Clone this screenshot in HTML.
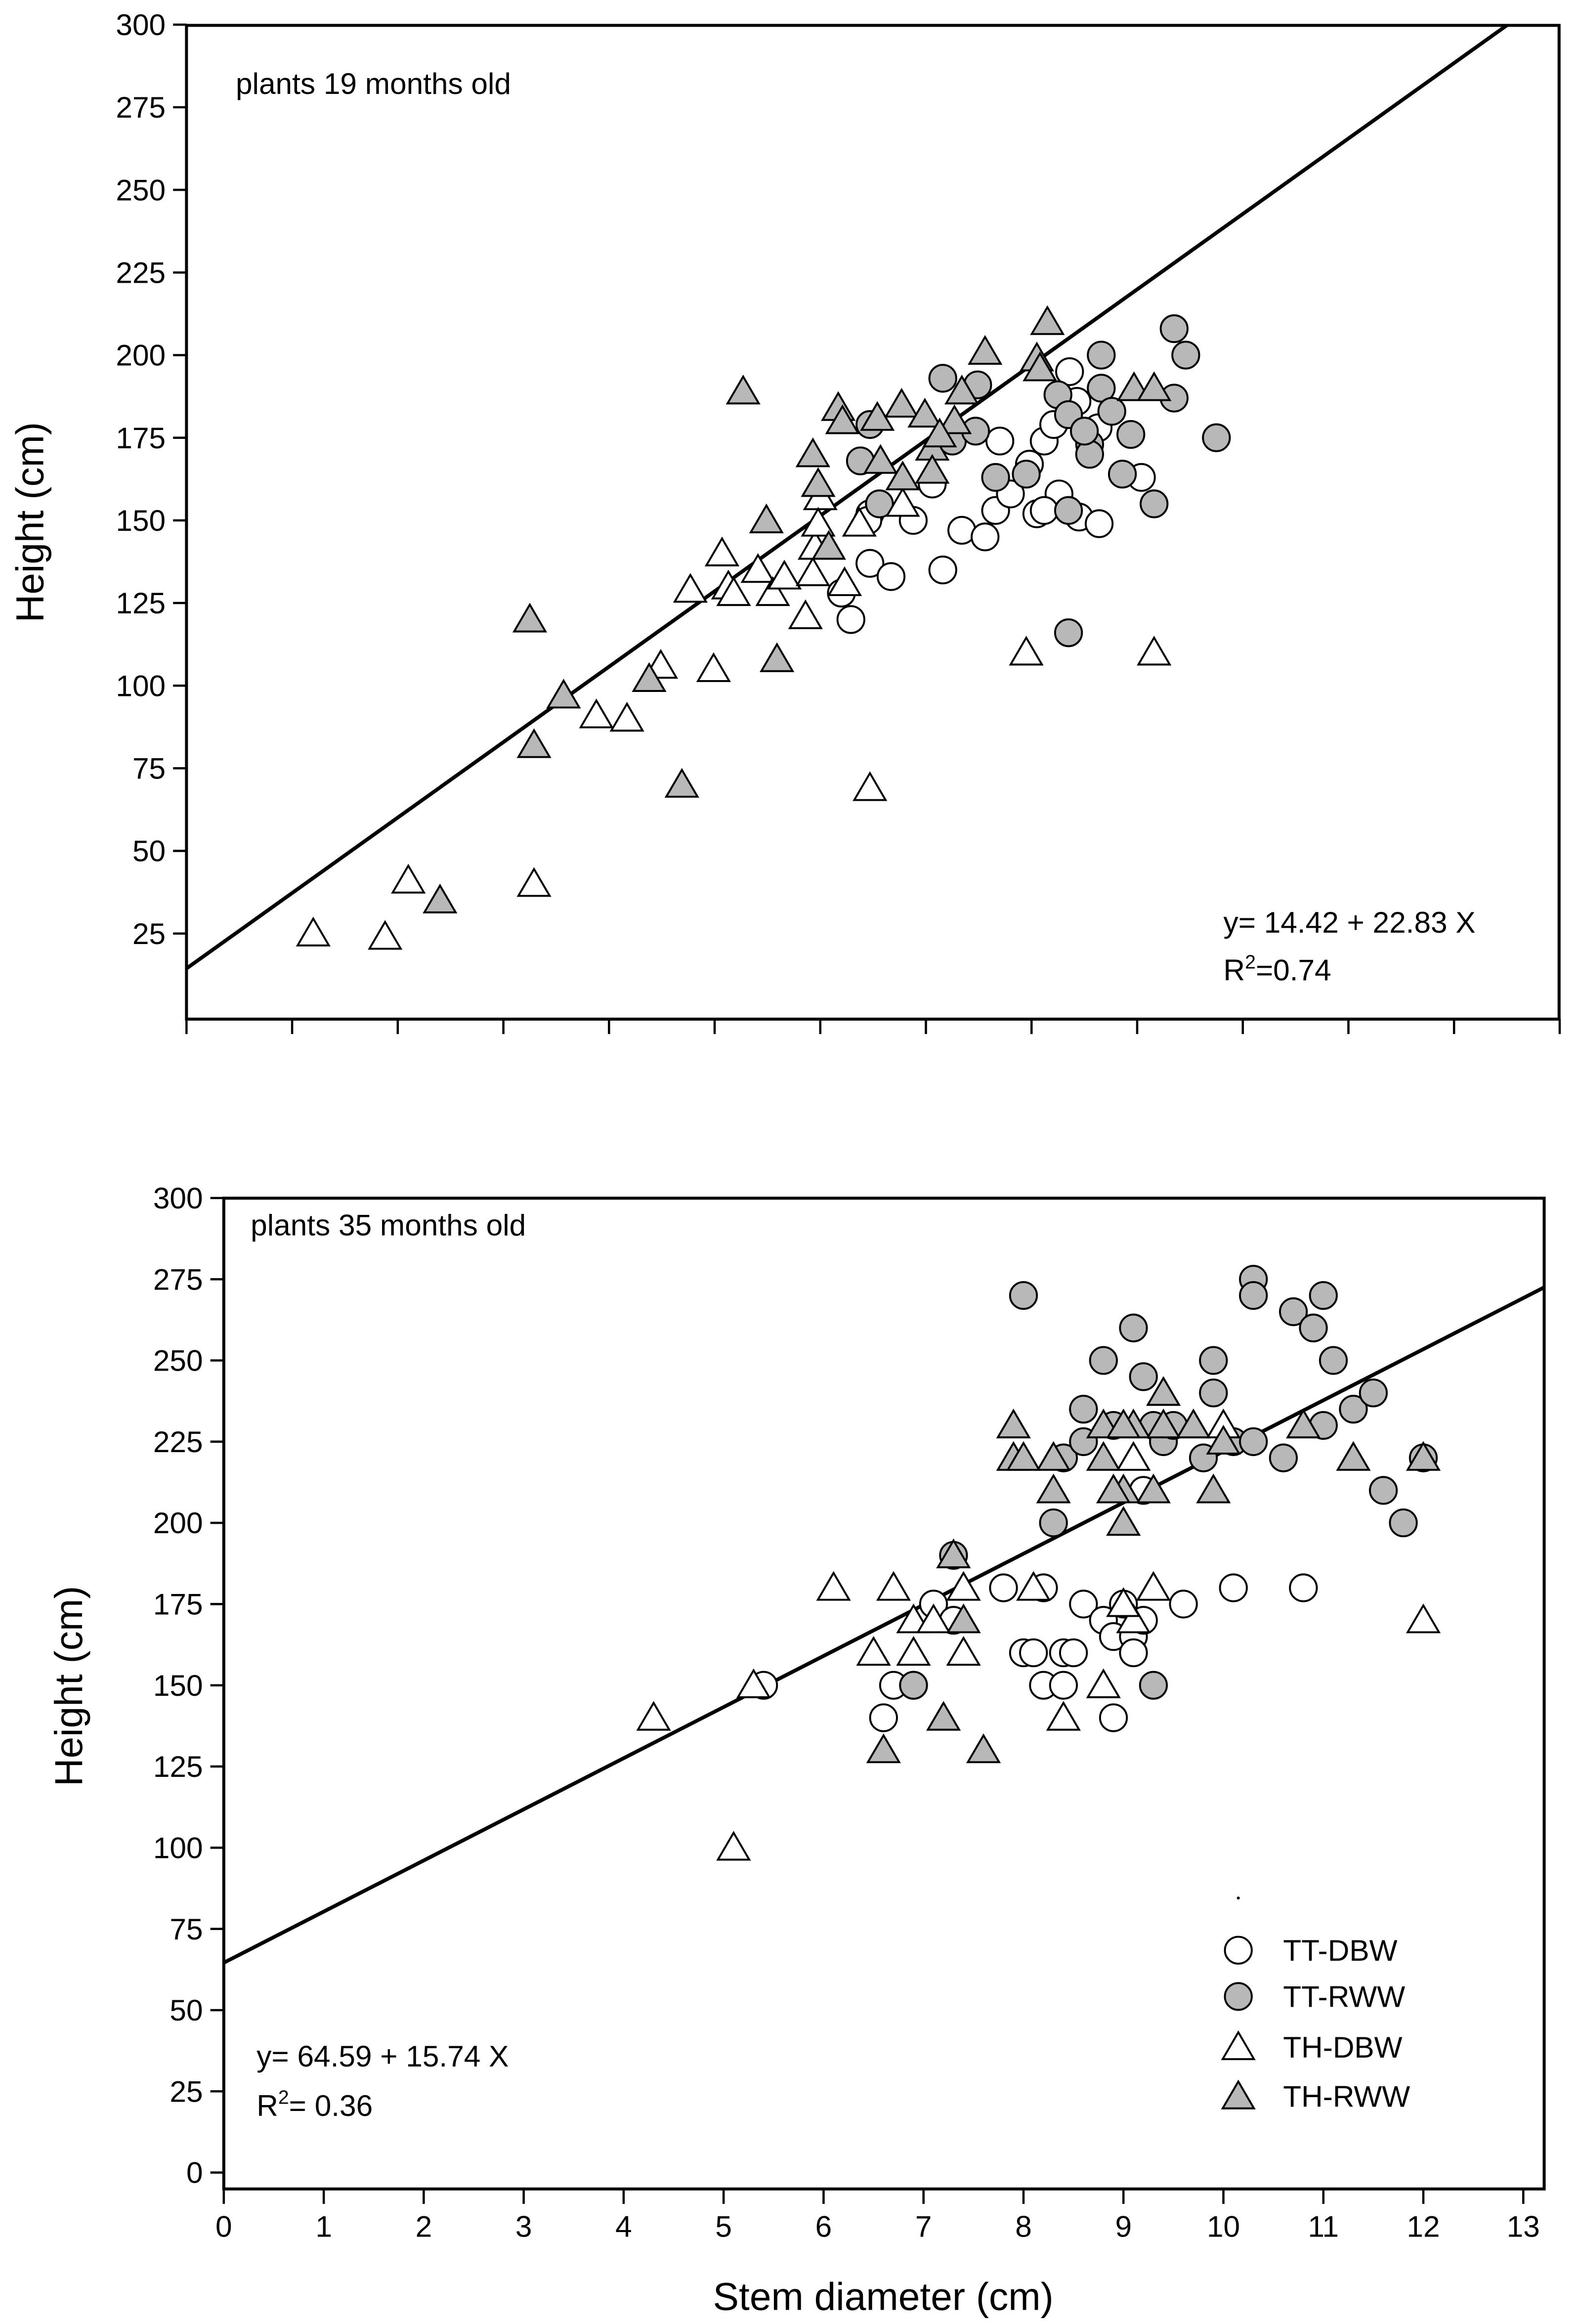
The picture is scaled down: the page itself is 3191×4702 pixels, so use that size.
<!DOCTYPE html>
<html><head><meta charset="utf-8"><style>html,body{margin:0;padding:0;background:#fff}svg{display:block}text{font-family:"Liberation Sans",Arial,sans-serif;fill:#000}</style></head>
<body>
<svg id="chart" xmlns="http://www.w3.org/2000/svg" width="3191" height="4702" viewBox="0 0 1057 1557.5">
<rect width="1057" height="1557.5" fill="#fff"/>
<g id="top"></g>
<g id="bot"></g>
<text x="29" y="350" font-size="26" text-anchor="middle" transform="rotate(-90 29 350)">Height (cm)</text>
<text x="55" y="1130" font-size="26" text-anchor="middle" transform="rotate(-90 55 1130)">Height (cm)</text>
<text x="592" y="1548" font-size="26" text-anchor="middle">Stem diameter (cm)</text>
<text x="158" y="63" font-size="20">plants 19 months old</text>
<text x="168" y="828" font-size="20">plants 35 months old</text>
<text x="820" y="625" font-size="20">y= 14.42 + 22.83 X</text>
<text x="820" y="657" font-size="20">R<tspan font-size="13" dy="-8">2</tspan><tspan dy="8">=0.74</tspan></text>
<text x="172" y="1385" font-size="20">y= 64.59 + 15.74 X</text>
<text x="172" y="1418" font-size="20">R<tspan font-size="13" dy="-8">2</tspan><tspan dy="8">= 0.36</tspan></text>
<g id="legend"></g>
</svg>
<script>
const xTicks=[0,1,2,3,4,5,6,7,8,9,10,11,12,13];
const yTicksTop=[25,50,75,100,125,150,175,200,225,250,275,300];
const yTicksBot=[0,25,50,75,100,125,150,175,200,225,250,275,300];
const seriesNames=["TT-DBW","TT-RWW","TH-DBW","TH-RWW"];
const fitTop=[14.42,22.83];
const fitBot=[64.59,15.74];
const topTTDBW=[[6.29,120],[6.47,137],[6.47,152],[6.67,133],[6.88,150],[7.06,161],[7.16,135],[7.34,147],[7.56,145],[7.66,153],[7.70,174],[7.80,158],[7.98,167],[8.05,152],[8.12,174],[8.26,158],[8.43,186],[8.21,179],[8.12,153],[8.36,195],[8.45,151],[8.63,178],[8.64,149],[9.04,163],[6.2,128],[6.45,150]];
const topTTRWW=[[7.16,193],[7.49,191],[7.25,174],[7.47,177],[7.66,163],[7.95,164],[8.25,188],[8.35,182],[8.55,173],[8.55,170],[8.66,200],[8.66,190],[8.76,183],[8.86,164],[8.94,176],[9.16,155],[9.35,208],[9.35,187],[9.46,200],[9.75,175],[8.35,116],[8.35,153],[6.47,179],[6.38,168],[6.56,155],[8.50,177]];
const topTHDBW=[[1.2,25],[1.88,24],[2.1,41],[3.29,40],[3.88,91],[4.17,90],[4.49,106],[4.77,129],[4.99,105],[5.07,140],[5.13,130],[5.18,128],[5.41,135],[5.55,128],[5.66,133],[5.86,121],[5.93,134],[6.0,157],[5.95,142],[6.23,131],[6.37,149],[6.47,69],[6.78,155],[7.95,110],[9.16,110],[5.98,149]];
const topTHRWW=[[3.25,120],[3.29,82],[2.4,35],[3.57,97],[4.38,102],[4.69,70],[5.27,189],[5.49,150],[5.59,108],[5.93,170],[5.98,161],[6.08,142],[6.17,184],[6.21,180],[6.54,181],[6.57,168],[6.77,185],[6.78,163],[6.99,182],[7.06,172],[7.06,165],[7.27,180],[7.34,189],[7.56,201],[8.05,199],[8.15,210],[8.08,196],[8.97,190],[9.16,190],[7.13,176]];
const botTTDBW=[[5.4,150],[6.6,140],[6.7,150],[6.9,150],[7.1,175],[7.3,170],[7.8,180],[8.0,160],[8.1,160],[8.2,150],[8.2,180],[8.4,160],[8.4,150],[8.5,160],[8.6,175],[8.8,170],[8.9,140],[8.9,165],[9.0,175],[9.1,165],[9.2,170],[9.6,175],[10.1,180],[10.8,180],[9.2,210],[9.1,160]];
const botTTRWW=[[7.3,190],[8.0,270],[8.3,200],[8.4,220],[8.6,235],[8.6,225],[8.8,250],[8.9,230],[9.1,260],[9.2,245],[9.3,230],[9.4,225],[9.5,230],[9.8,220],[9.9,250],[9.9,240],[10.1,225],[10.3,275],[10.3,270],[10.3,225],[10.6,220],[10.7,265],[10.9,260],[11.0,270],[11.0,230],[11.1,250],[11.3,235],[11.5,240],[11.6,210],[11.8,200],[12.0,220],[9.3,150],[6.9,150]];
const botTHDBW=[[4.3,140],[5.1,100],[5.3,150],[6.1,180],[6.5,160],[6.7,180],[6.9,170],[6.9,160],[7.1,170],[7.4,160],[7.4,180],[8.1,180],[8.4,140],[8.8,150],[9.1,170],[9.1,220],[9.3,180],[9.7,230],[10.0,230],[10.8,230],[12.0,170],[9.0,175]];
const botTHRWW=[[6.6,130],[7.2,140],[7.3,190],[7.4,170],[7.6,130],[7.9,230],[7.9,220],[8.0,220],[8.3,210],[8.3,220],[8.8,230],[8.8,220],[9.0,210],[9.0,200],[9.1,230],[9.3,210],[9.4,240],[9.4,230],[9.7,230],[9.9,210],[10.0,225],[10.8,230],[11.3,220],[12.0,220],[9.0,230],[8.9,210]];

const NS="http://www.w3.org/2000/svg";
function mk(tag,attrs,parent){const e=document.createElementNS(NS,tag);for(const k in attrs)e.setAttribute(k,attrs[k]);parent.appendChild(e);return e;}
function circle(g,x,y,fill){return mk('circle',{cx:x,cy:y,r:9,fill:fill,stroke:'#000','stroke-width':1.3},g);}
function tri(g,x,y,fill){return mk('polygon',{points:`${x},${y-10} ${x-10.5},${y+8} ${x+10.5},${y+8}`,fill:fill,stroke:'#000','stroke-width':1.3},g);}

function panel(g,cfg){
  const xs=v=>cfg.x0+v*cfg.px;
  const ys=v=>cfg.y0-v*cfg.py;
  const ax=mk('rect',{x:cfg.L,y:cfg.T,width:cfg.R-cfg.L,height:cfg.B-cfg.T,fill:'none',stroke:'#000','stroke-width':2},g);
  
  
  xTicks.forEach(t=>{const X=xs(t);
    const l=mk('line',{x1:X,x2:X,y1:cfg.B,y2:cfg.B+10,stroke:'#000','stroke-width':1.5},g);
    
    
    if(cfg.xLabels){const tx=mk('text',{x:X,y:cfg.B+32,'font-size':20,'text-anchor':'middle'},g);tx.textContent=t;
      
      }
  });
  cfg.yTicks.forEach(t=>{const Y=ys(t);
    const l=mk('line',{x1:cfg.L-9,x2:cfg.L,y1:Y,y2:Y,stroke:'#000','stroke-width':1.5},g);
    
    
    const tx=mk('text',{x:cfg.L-14,y:Y+7,'font-size':20,'text-anchor':'end'},g);tx.textContent=t;
    
    
  });
  const a=cfg.fit[0],b=cfg.fit[1];
  const xl=(cfg.L-cfg.x0)/cfg.px; let xr=(cfg.R-cfg.x0)/cfg.px;
  const yTop=(cfg.y0-cfg.T)/cfg.py; if(a+b*xr>yTop) xr=(yTop-a)/b;
  const ln=mk('line',{x1:xs(xl),y1:ys(a+b*xl),x2:xs(xr),y2:ys(a+b*xr),stroke:'#000','stroke-width':2.5},g);
  
  
  cfg.s[0].forEach(d=>{const m=circle(g,xs(d[0]),ys(d[1]),'#fff');
    
    });
  cfg.s[1].forEach(d=>{const m=circle(g,xs(d[0]),ys(d[1]),'#b8b8b8');
    
    });
  cfg.s[2].forEach(d=>{const m=tri(g,xs(d[0]),ys(d[1]),'#fff');
    
    });
  cfg.s[3].forEach(d=>{const m=tri(g,xs(d[0]),ys(d[1]),'#b8b8b8');
    
    });
}
panel(document.getElementById('top'),{L:125,R:1045,T:17,B:683,x0:125,px:70.8,y0:681,py:2.215,yTicks:yTicksTop,xLabels:false,fit:fitTop,s:[topTTDBW,topTTRWW,topTHDBW,topTHRWW]});
panel(document.getElementById('bot'),{L:150,R:1035,T:803,B:1467,x0:150,px:67,y0:1456,py:2.177,yTicks:yTicksBot,xLabels:true,fit:fitBot,s:[botTTDBW,botTTRWW,botTHDBW,botTHRWW]});

const lg=document.getElementById('legend');
mk('circle',{cx:830,cy:1272,r:1,fill:'#000'},lg);
const ly=[1307,1338,1372,1405];
seriesNames.forEach((n,i)=>{
  const fill=(i%2)?'#b8b8b8':'#fff';
  const m=i<2?circle(lg,830,ly[i],fill):tri(lg,830,ly[i],fill);
  
  
  const t=mk('text',{x:860,y:ly[i]+7,'font-size':20},lg);t.textContent=n;
  
  
});
</script>
</body></html>
